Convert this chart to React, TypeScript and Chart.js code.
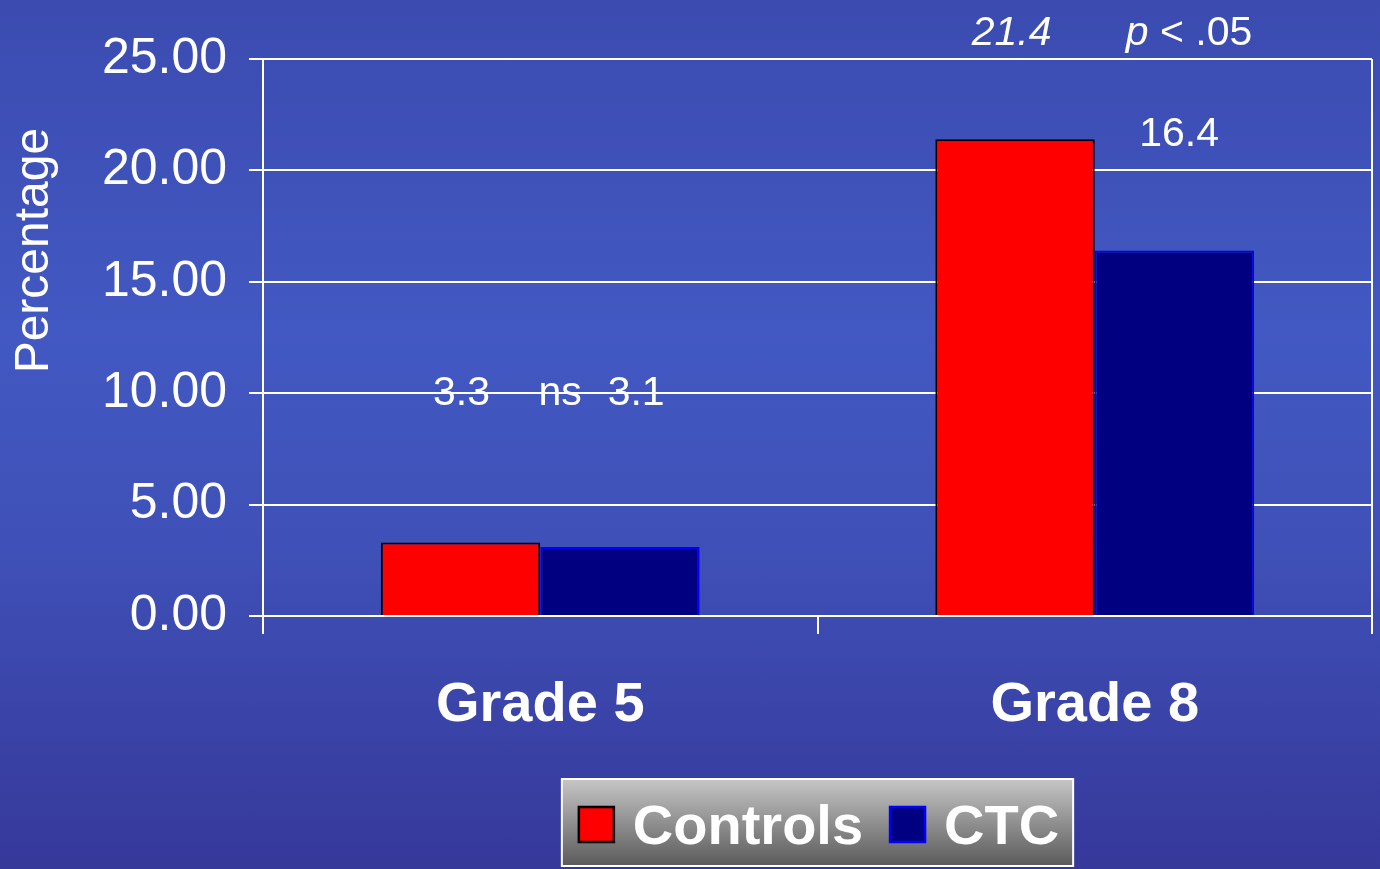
import React, { useEffect, useRef } from "react";
import { Chart, registerables } from "chart.js";

Chart.register(...registerables);

const categories = ["Grade 5", "Grade 8"];
const seriesNames = ["Controls", "CTC"];
const controlsValues = [3.3, 21.4];
const ctcValues = [3.1, 16.4];
const seriesFill = ["#ff0000", "#000080"];
const seriesBorder = ["#000000", "#0000ff"];
const yMin = 0;
const yMax = 25;
const yStep = 5;
const yTitle = "Percentage";

// annotation texts: category index, offset in category widths, y value
const annotationTexts = [
  { parts: [{ t: "3.3", italic: false }], cat: 0, dx: -0.142, y: 10.0 },
  { parts: [{ t: "ns", italic: false }], cat: 0, dx: 0.036, y: 10.0 },
  { parts: [{ t: "3.1", italic: false }], cat: 0, dx: 0.173, y: 10.0 },
  { parts: [{ t: "21.4", italic: true }], cat: 1, dx: -0.15, y: 26.15 },
  { parts: [{ t: "p", italic: true }, { t: " < .05", italic: false }], cat: 1, dx: 0.17, y: 26.15 },
  { parts: [{ t: "16.4", italic: false }], cat: 1, dx: 0.152, y: 21.6 },
];

const FONT = "'Liberation Sans', Arial, Helvetica, sans-serif";

const overlayPlugin = {
  id: "overlay",
  afterDraw(chart: any) {
    const { ctx, chartArea, scales } = chart;
    const xs = scales.x;
    const ys = scales.y;
    ctx.save();
    // right frame line
    ctx.strokeStyle = "#ffffff";
    ctx.lineWidth = 2;
    ctx.beginPath();
    ctx.moveTo(chartArea.right, chartArea.top);
    ctx.lineTo(chartArea.right, chartArea.bottom);
    ctx.stroke();

    // annotations
    const catW = xs.getPixelForValue(1) - xs.getPixelForValue(0);
    ctx.fillStyle = "#ffffff";
    ctx.textBaseline = "middle";
    for (const a of annotationTexts) {
      const cx = xs.getPixelForValue(a.cat) + a.dx * catW;
      const cy = ys.getPixelForValue(a.y);
      const widths = a.parts.map((p) => {
        ctx.font = `${p.italic ? "italic " : ""}41px ${FONT}`;
        return ctx.measureText(p.t).width;
      });
      const total = widths.reduce((s, w) => s + w, 0);
      let x0 = cx - total / 2;
      ctx.textAlign = "left";
      a.parts.forEach((p, i) => {
        ctx.font = `${p.italic ? "italic " : ""}41px ${FONT}`;
        ctx.fillText(p.t, x0, cy);
        x0 += widths[i];
      });
    }

    // y title
    ctx.save();
    ctx.translate(chartArea.left - 228, ys.getPixelForValue(16.4));
    ctx.rotate(-Math.PI / 2);
    ctx.font = `48px ${FONT}`;
    ctx.textAlign = "center";
    ctx.textBaseline = "middle";
    ctx.fillText(yTitle, 0, 0);
    ctx.restore();

    // legend
    const boxH = 87;
    const boxTop = chart.height - 90;
    const sq = 35;
    const padL = 17;
    const padR = 14;
    const gapSqText = 19;
    const gapItems = 27;
    ctx.font = `bold 56px ${FONT}`;
    const items = chart.data.datasets.map((d: any) => ({
      label: d.label,
      fill: d.backgroundColor,
      border: d.borderColor,
      w: ctx.measureText(d.label).width,
    }));
    let boxW = padL + padR;
    items.forEach((it: any, i: number) => {
      boxW += sq + gapSqText + it.w + (i < items.length - 1 ? gapItems : 0);
    });
    const boxLeft = (chartArea.left + chartArea.right) / 2 - boxW / 2;
    const grad = ctx.createLinearGradient(0, boxTop, 0, boxTop + boxH);
    grad.addColorStop(0, "#c6c6c6");
    grad.addColorStop(1, "#5a5a5a");
    ctx.fillStyle = grad;
    ctx.fillRect(boxLeft, boxTop, boxW, boxH);
    ctx.strokeStyle = "#ffffff";
    ctx.lineWidth = 2;
    ctx.strokeRect(boxLeft, boxTop, boxW, boxH);
    let lx = boxLeft + padL;
    const cyL = boxTop + boxH / 2 + 2;
    items.forEach((it: any) => {
      ctx.fillStyle = it.fill;
      ctx.fillRect(lx, cyL - sq / 2, sq, sq);
      ctx.strokeStyle = it.border;
      ctx.lineWidth = 2.5;
      ctx.strokeRect(lx, cyL - sq / 2, sq, sq);
      lx += sq + gapSqText;
      ctx.fillStyle = "#ffffff";
      ctx.font = `bold 56px ${FONT}`;
      ctx.textAlign = "left";
      ctx.textBaseline = "middle";
      ctx.fillText(it.label, lx, cyL + 4);
      lx += it.w + gapItems;
    });
    ctx.restore();
  },
};

export default function App() {
  const canvasRef = useRef<HTMLCanvasElement | null>(null);

  useEffect(() => {
    const canvas = canvasRef.current;
    if (!canvas) return;
    const chart = new Chart(canvas, {
      type: "bar",
      data: {
        labels: categories,
        datasets: [
          {
            label: seriesNames[0],
            data: controlsValues,
            backgroundColor: seriesFill[0],
            borderColor: seriesBorder[0],
            borderWidth: 2,
            borderSkipped: "bottom",
          },
          {
            label: seriesNames[1],
            data: ctcValues,
            backgroundColor: seriesFill[1],
            borderColor: seriesBorder[1],
            borderWidth: 2,
            borderSkipped: "bottom",
          },
        ],
      },
      options: {
        responsive: false,
        animation: false,
        devicePixelRatio: 1,
        layout: { padding: { top: 59, right: 8, left: 0, bottom: 0 } },
        datasets: {
          bar: { barPercentage: 1, categoryPercentage: 0.575 },
        },
        plugins: {
          legend: { display: false },
          tooltip: { enabled: false },
        },
        scales: {
          x: {
            afterFit: (s: any) => {
              s.height = 253;
            },
            grid: {
              offset: true,
              drawOnChartArea: false,
              color: "#ffffff",
              lineWidth: 2,
              tickLength: 18,
            },
            border: { color: "#ffffff", width: 2 },
            ticks: {
              color: "#ffffff",
              padding: 38,
              font: { family: FONT, size: 56, weight: "bold" },
            },
          },
          y: {
            min: yMin,
            max: yMax,
            afterFit: (s: any) => {
              s.width = 263;
            },
            grid: {
              color: "#ffffff",
              lineWidth: 2,
              tickLength: 14,
            },
            border: { color: "#ffffff", width: 2 },
            ticks: {
              stepSize: yStep,
              color: "#ffffff",
              padding: 22,
              font: { family: FONT, size: 50 },
              callback: (v: any) => Number(v).toFixed(2),
            },
          },
        },
      },
      plugins: [overlayPlugin],
    });
    return () => chart.destroy();
  }, []);

  return (
    <div
      style={{
        position: "fixed",
        left: 0,
        top: 0,
        width: 1380,
        height: 869,
        background:
          "linear-gradient(to bottom, #3b4bb0 0%, #4258c2 38%, #3f51b8 62%, #36389a 100%)",
      }}
    >
      <canvas ref={canvasRef} width={1380} height={869} style={{ display: "block" }} />
    </div>
  );
}
